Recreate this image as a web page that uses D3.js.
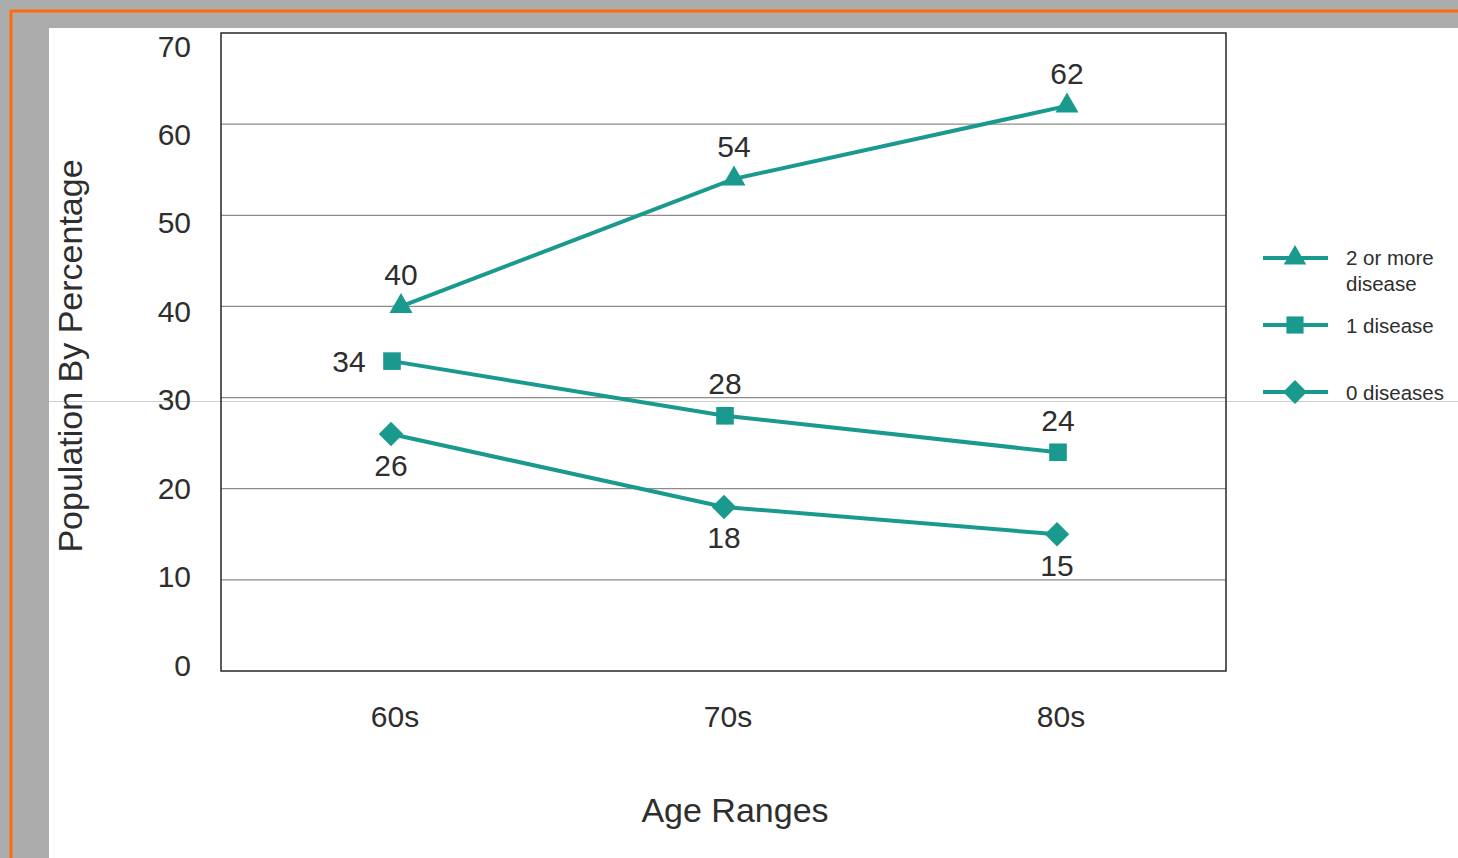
<!DOCTYPE html>
<html><head><meta charset="utf-8">
<script src="https://cdn.jsdelivr.net/npm/d3@7"></script>
<style>
html,body{margin:0;padding:0;background:#fff;overflow:hidden}
svg{display:block}
text{font-family:"Liberation Sans",Arial,Helvetica,sans-serif;fill:#2e2e2e}
</style></head>
<body>
<svg id="c" width="1458" height="858"></svg>
<script>
const categories = ["60s", "70s", "80s"];
const seriesNames = ["2 or more disease", "1 disease", "0 diseases"];
const twoOrMore = [40, 54, 62];
const oneDisease = [34, 28, 24];
const zeroDiseases = [26, 18, 15];
const yTicks = [0, 10, 20, 30, 40, 50, 60, 70];

const W = 1458, H = 858;
const svg = d3.select("#c");
const teal = "#1a9a8f";

// frame / background
const bg = svg.append("g");
bg.append("rect").attr("x",0).attr("y",0).attr("width",W).attr("height",H).attr("fill","#acacac");
bg.append("rect").attr("x",49).attr("y",28).attr("width",W-49).attr("height",H-28).attr("fill","#fff");
bg.append("line").attr("x1",11).attr("x2",W).attr("y1",11).attr("y2",11).attr("stroke","#ff6a0a").attr("stroke-width",3);
bg.append("line").attr("x1",11).attr("x2",11).attr("y1",10).attr("y2",H).attr("stroke","#ff6a0a").attr("stroke-width",3);

const plot = {left:221, right:1226, top:33, bottom:671};
const y = d3.scaleLinear().domain([0,70]).range([plot.bottom, plot.top]);
const yLab = d3.scaleLinear().domain([0,70]).range([665, 46]);
const x = d3.scalePoint().domain(categories).range([395, 1061]);

// gridlines
svg.append("g").selectAll("line").data(yTicks.filter(t=>t>0 && t<70)).join("line")
  .attr("x1",plot.left).attr("x2",plot.right)
  .attr("y1",d=>y(d)).attr("y2",d=>y(d))
  .attr("stroke","#8c8c8c").attr("stroke-width",1.2);

// artifact line across page
svg.append("line").attr("x1",49).attr("x2",W).attr("y1",401.5).attr("y2",401.5)
  .attr("stroke","#d0d0d0").attr("stroke-width",1);

// frame
svg.append("rect").attr("x",plot.left).attr("y",plot.top)
  .attr("width",plot.right-plot.left).attr("height",plot.bottom-plot.top)
  .attr("fill","none").attr("stroke","#333").attr("stroke-width",1.6);

// y tick labels
svg.append("g").selectAll("text").data(yTicks).join("text")
  .attr("x",191).attr("y",d=>yLab(d)).attr("dy","0.35em")
  .attr("text-anchor","end").attr("font-size",30).text(d=>d);

// x tick labels
svg.append("g").selectAll("text").data(categories).join("text")
  .attr("x",d=>x(d)).attr("y",716).attr("dy","0.35em")
  .attr("text-anchor","middle").attr("font-size",30).text(d=>d);

// axis titles
svg.append("text").attr("x",735).attr("y",810).attr("dy","0.35em")
  .attr("text-anchor","middle").attr("font-size",34).text("Age Ranges");
svg.append("text").attr("transform","translate(70,356) rotate(-90)").attr("dy","0.35em")
  .attr("text-anchor","middle").attr("font-size",34).text("Population By Percentage");

const place = {above:{dx:0, dy:-32}, left:{dx:-43, dy:0}, below:{dx:0, dy:31}};
const series = [
  {name:seriesNames[0], values:twoOrMore, symbol:d3.symbolTriangle, size:230, rot:0, dx:6, labels:["above","above","above"]},
  {name:seriesNames[1], values:oneDisease, symbol:d3.symbolSquare, size:310, rot:0, dx:-3, labels:["left","above","above"]},
  {name:seriesNames[2], values:zeroDiseases, symbol:d3.symbolSquare, size:300, rot:45, dx:-4, labels:["below","below","below"]}
];

const line = d3.line().x(d=>d.x).y(d=>d.y);
series.forEach(s=>{
  const pts = s.values.map((v,i)=>({x:x(categories[i])+s.dx, y:y(v), v, p:place[s.labels[i]]}));
  svg.append("path").attr("d",line(pts)).attr("fill","none")
    .attr("stroke",teal).attr("stroke-width",4);
  svg.append("g").selectAll("path").data(pts).join("path")
    .attr("transform",d=>`translate(${d.x},${d.y}) rotate(${s.rot})`)
    .attr("d",d3.symbol().type(s.symbol).size(s.size)).attr("fill",teal);
  svg.append("g").selectAll("text").data(pts).join("text")
    .attr("x",d=>d.x+d.p.dx).attr("y",d=>d.y+d.p.dy).attr("dy","0.35em")
    .attr("text-anchor","middle").attr("font-size",30).text(d=>d.v);
});

// legend
const legendRows = [258, 325, 392];
const lg = svg.append("g");
series.forEach((s,i)=>{
  const ly = legendRows[i];
  lg.append("line").attr("x1",1263).attr("x2",1328).attr("y1",ly).attr("y2",ly)
    .attr("stroke",teal).attr("stroke-width",4);
  lg.append("path").attr("transform",`translate(1295,${ly}) rotate(${s.rot})`)
    .attr("d",d3.symbol().type(s.symbol).size(s.size*0.95)).attr("fill",teal);
});
lg.append("text").attr("x",1346).attr("y",258).attr("dy","0.35em").attr("font-size",20.5).text("2 or more");
lg.append("text").attr("x",1346).attr("y",284).attr("dy","0.35em").attr("font-size",20.5).text("disease");
lg.append("text").attr("x",1346).attr("y",326).attr("dy","0.35em").attr("font-size",20.5).text(seriesNames[1]);
lg.append("text").attr("x",1346).attr("y",393).attr("dy","0.35em").attr("font-size",20.5).text(seriesNames[2]);
</script>
</body></html>
